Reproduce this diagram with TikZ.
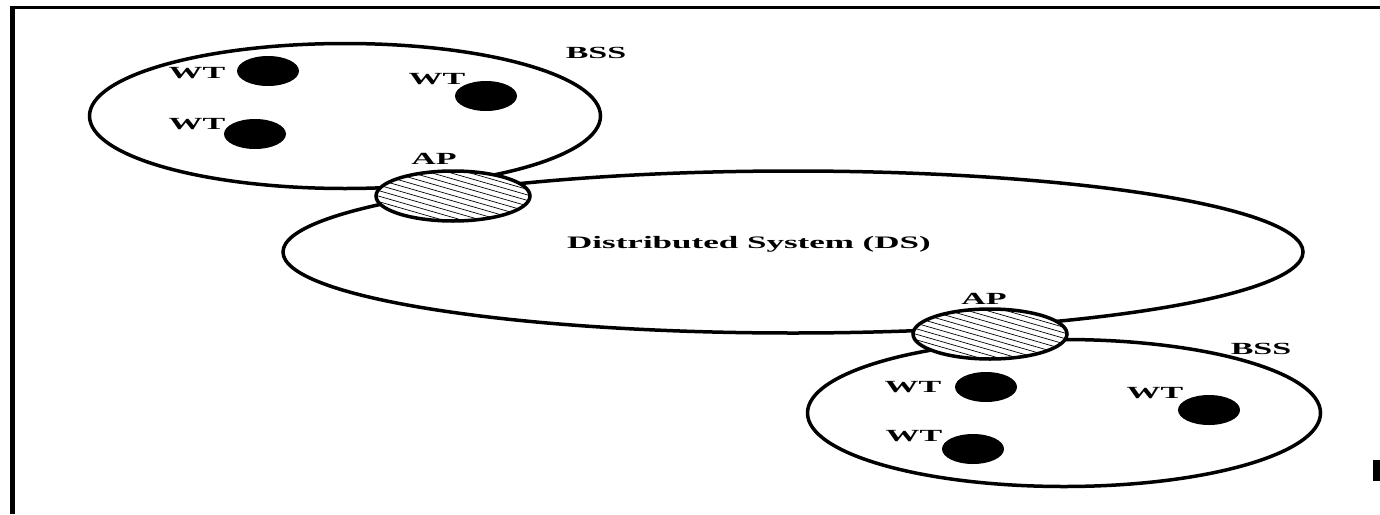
\documentclass[tikz,border=0pt]{standalone}
\usepackage{fontspec}
\setmainfont{Liberation Serif}
\usetikzlibrary{shapes.geometric}
\newcommand{\wide}[1]{\scalebox{2}[1]{#1}}
\tikzset{
	x=1pt, y=-1pt, % pixel like coordinates
	cell/.style={ellipse, draw, line width=3.5pt, inner sep=0pt}, % BSS and DS areas
	ap/.style={ellipse, draw, line width=3.5pt, fill=white, inner sep=0pt,
		minimum width=154pt, minimum height=50pt,
		path picture={\foreach \k in {-70,-64.5,...,80}
			\draw[line width=0.7pt] ([shift={(-80pt,\k pt)}]path picture bounding box.center) -- ++(160pt,-46pt);}},
	wt/.style={ellipse, fill=black, inner sep=0pt, minimum width=62pt, minimum height=30pt},
	lbl/.style={inner sep=0pt, font=\bfseries\fontsize{17}{17}\selectfont},
}
\begin{document}
\begin{tikzpicture}
	\useasboundingbox (0,0) rectangle (1380,514);
	% frame
	\draw[line width=3pt] (10,7) -- (1380,7);
	\draw[line width=5pt] (12.5,5.5) -- (12.5,514);
	\fill (1373,460) rectangle (1380,481);

	% areas
	\node[cell, minimum width=511pt, minimum height=145pt] (bss1) at (345,116) {};
	\node[cell, minimum width=1020pt, minimum height=162pt] (ds) at (793,252) {};
	\node[cell, minimum width=513pt, minimum height=147pt] (bss2) at (1064,413) {};

	% access points
	\node[ap] (ap1) at (453,196) {};
	\node[ap] (ap2) at (990,334) {};

	% terminals
	\node[wt] (wt1) at (268,71) {};
	\node[wt] (wt2) at (486,96) {};
	\node[wt] (wt3) at (255,134) {};
	\node[wt] (wt4) at (986,387) {};
	\node[wt] (wt5) at (1209,410) {};
	\node[wt] (wt6) at (973,449) {};

	% labels
	\node[lbl] (lbss1) at (596,53) {\wide{BSS}};
	\node[lbl] (lbss2) at (1261,349) {\wide{BSS}};
	\node[lbl] (lap1) at (434,159) {\wide{AP}};
	\node[lbl] (lap2) at (984,299) {\wide{AP}};
	\node[lbl, font=\bfseries\fontsize{17.5}{17.5}\selectfont] (lds) at (749,244) {\wide{Distributed System (DS)}};
	\node[lbl] (lwt1) at (197,73) {\wide{WT}};
	\node[lbl] (lwt2) at (437,79) {\wide{WT}};
	\node[lbl] (lwt3) at (197,124) {\wide{WT}};
	\node[lbl] (lwt4) at (913,387) {\wide{WT}};
	\node[lbl] (lwt5) at (1155,393) {\wide{WT}};
	\node[lbl] (lwt6) at (914,436) {\wide{WT}};
\end{tikzpicture}
\end{document}
